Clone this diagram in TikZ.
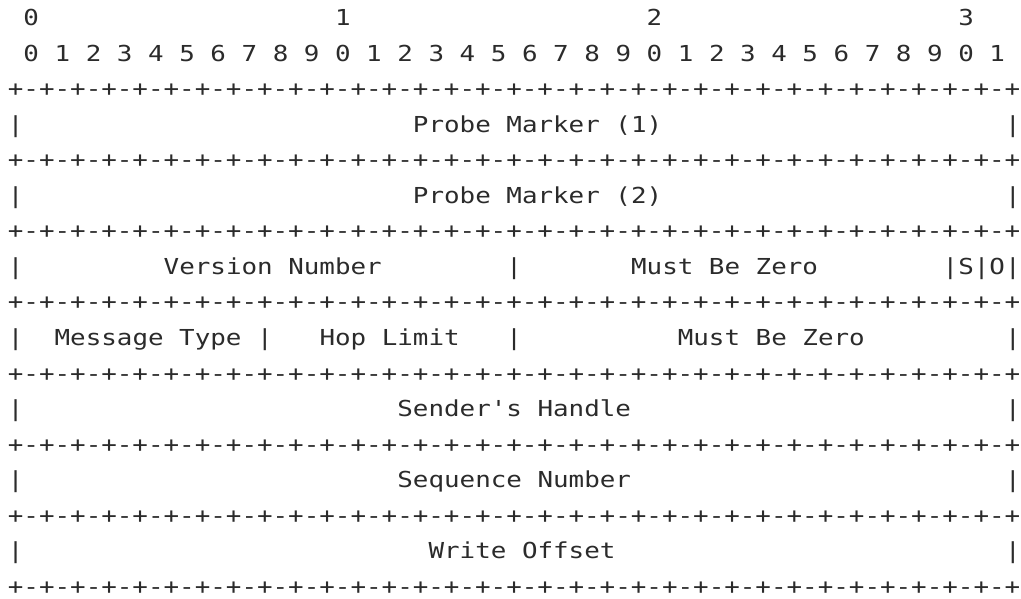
\documentclass[tikz,border=0pt]{standalone}
\usepackage{fontspec}
\newfontfamily\dvm[FakeStretch=1.176,Ligatures=TeXOff]{DejaVu Sans Mono}
\definecolor{ink}{HTML}{2B2B2B}
\newcommand\bordgrp{+-+-+-+-}
\newcommand\bordline{\bordgrp\bordgrp\bordgrp\bordgrp\bordgrp\bordgrp\bordgrp\bordgrp+}
\newcommand\cell[4]{\node[txt] (#1) at ({7.9+15.58*#3},{25.5+35.55*#2}) {#4};}
\begin{document}
\begin{tikzpicture}[x=1pt,y=-1pt,
  txt/.style={anchor=base west,inner sep=0pt,outer sep=0pt,text=ink,text depth=0pt,
    font=\dvm\fontsize{22pt}{26pt}\selectfont}]
\useasboundingbox[fill=white] (0,0) rectangle (1021,598);
% bit tens
\cell{t0}{0}{1}{0}
\cell{t1}{0}{21}{1}
\cell{t2}{0}{41}{2}
\cell{t3}{0}{61}{3}
% bit units
\foreach \i in {0,...,31}{
  \pgfmathtruncatemacro\d{mod(\i,10)}
  \pgfmathtruncatemacro\c{2*\i+1}
  \cell{u\i}{1}{\c}{\d}
}
% borders
\foreach \r in {2,4,...,16}{
  \cell{b\r}{\r}{0}{\bordline}
}
% row 3
\cell{l3}{3}{0}{|}
\cell{pm1}{3}{26}{Probe Marker (1)}
\cell{r3}{3}{64}{|}
% row 5
\cell{l5}{5}{0}{|}
\cell{pm2}{5}{26}{Probe Marker (2)}
\cell{r5}{5}{64}{|}
% row 7
\cell{l7}{7}{0}{|}
\cell{vn}{7}{10}{Version Number}
\cell{m7}{7}{32}{|}
\cell{mbz1}{7}{40}{Must Be Zero}
\cell{so}{7}{60}{|S|O|}
% row 9
\cell{l9}{9}{0}{|}
\cell{mt}{9}{3}{Message Type}
\cell{ma9}{9}{16}{|}
\cell{hl}{9}{20}{Hop Limit}
\cell{mb9}{9}{32}{|}
\cell{mbz2}{9}{43}{Must Be Zero}
\cell{r9}{9}{64}{|}
% row 11
\cell{l11}{11}{0}{|}
\cell{sh}{11}{25}{Sender's Handle}
\cell{r11}{11}{64}{|}
% row 13
\cell{l13}{13}{0}{|}
\cell{sn}{13}{25}{Sequence Number}
\cell{r13}{13}{64}{|}
% row 15
\cell{l15}{15}{0}{|}
\cell{wo}{15}{27}{Write Offset}
\cell{r15}{15}{64}{|}
\end{tikzpicture}
\end{document}
